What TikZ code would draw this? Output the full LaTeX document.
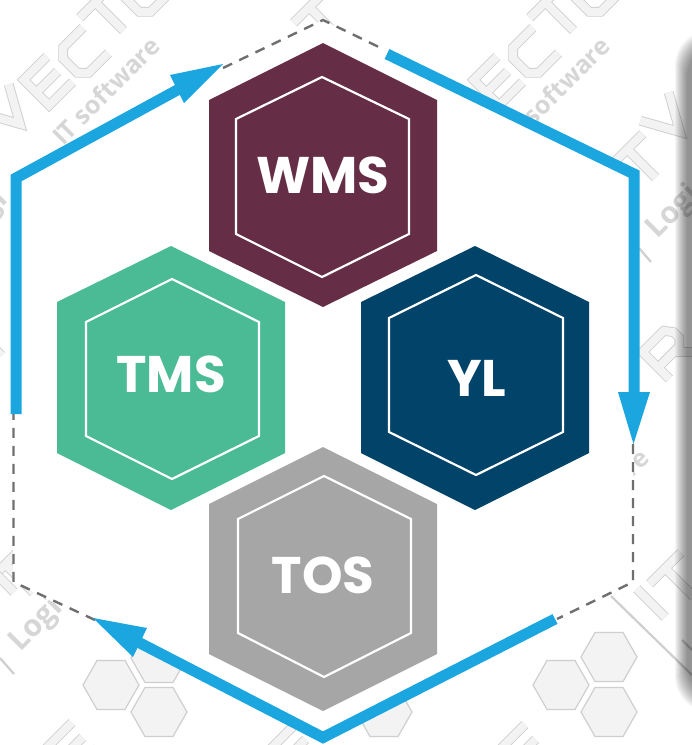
\documentclass[tikz,border=0pt]{standalone}
\usepackage{fontspec}
\setmainfont{Poppins}
\newfontfamily\wmfont{Open Sans}
\definecolor{blueline}{HTML}{1CA6E0}
\definecolor{dashgray}{HTML}{6F6F6F}
\definecolor{wmedge}{HTML}{CFCFCF}
\definecolor{wmtextc}{HTML}{D6D6D6}
\definecolor{wmfill}{HTML}{F3F3F3}
\definecolor{wmsc}{HTML}{662E46}
\definecolor{tmsc}{HTML}{4ABB94}
\definecolor{ylc}{HTML}{024369}
\definecolor{tosc}{HTML}{A6A6A6}
\tikzset{
  bigpath/.style={draw=blueline,line width=11pt,miter limit=10},
  tiphead/.style={fill=blueline},
  dashpath/.style={draw=dashgray,line width=2.4pt,dash pattern=on 10pt off 8pt},
  innerhex/.style={draw=white,line width=2.2pt},
  hexlabel/.style={text=white,font=\fontsize{51.5}{52}\selectfont\bfseries,inner sep=0pt,anchor=center},
  wmstroke/.style={draw=wmedge,line width=.9pt,double=wmfill,double distance=8pt,miter limit=10},
  wmhex/.style={draw=wmedge,line width=1.2pt,fill=wmfill},
  wmtext/.style={text=wmtextc,font=\wmfont\bfseries\fontsize{25}{25}\selectfont,rotate=45,anchor=base west,inner sep=0pt},
  wmtextbig/.style={wmtext,font=\wmfont\bfseries\fontsize{30}{30}\selectfont},
  wmrule/.style={draw=wmedge,line width=2.2pt}
}
\newcommand{\wmV}[2]{\begin{scope}[shift={(#1,#2)},rotate=45]\path[wmstroke] (-20,-19)--(0,17)--(20,-19);\end{scope}}
\newcommand{\wmE}[2]{\begin{scope}[shift={(#1,#2)},rotate=45]\path[wmstroke] (18,-18)--(-15,-18)--(-15,18)--(18,18) (-15,0)--(15,0);\end{scope}}
\newcommand{\wmC}[2]{\begin{scope}[shift={(#1,#2)},rotate=45]\path[wmstroke] (18,-18)--(-10,-18)--(-18,-10)--(-18,10)--(-10,18)--(18,18);\end{scope}}
\newcommand{\wmT}[2]{\begin{scope}[shift={(#1,#2)},rotate=45]\path[wmstroke] (-22,-18)--(22,-18) (0,-18)--(0,22);\end{scope}}
\newcommand{\wmO}[2]{\begin{scope}[shift={(#1,#2)},rotate=45]\path[wmstroke] (-10,-18)--(10,-18)--(18,-10)--(18,10)--(10,18)--(-10,18)--(-18,10)--(-18,-10)--cycle;\end{scope}}
\newcommand{\wmR}[2]{\begin{scope}[shift={(#1,#2)},rotate=45]\path[wmstroke] (-18,20)--(-18,-18)--(12,-18)--(18,-10)--(18,-2)--(12,4)--(-18,4) (4,4)--(20,20);\end{scope}}
\newcommand{\wmI}[2]{\begin{scope}[shift={(#1,#2)},rotate=45]\path[wmstroke] (0,-20)--(0,20);\end{scope}}
\newcommand{\wmhexagon}[2]{\path[wmhex,shift={(#1,#2)}] (-28,0)--(-14,-24.5)--(14,-24.5)--(28,0)--(14,24.5)--(-14,24.5)--cycle;}
\begin{document}
\begin{tikzpicture}[x=1pt,y=-1pt]
\useasboundingbox (0,0) rectangle (692,745);
\clip (0,0) rectangle (692,745);
\fill[white] (0,0) rectangle (692,745);
% watermark
\wmV{8}{112}\wmE{47}{82}\wmC{83}{53}\wmT{108}{15}\wmO{145}{-8}
\wmE{497}{82}\wmC{533}{53}\wmT{558}{15}\wmO{595}{-8}
\wmT{322}{20}
\wmT{640}{162}\wmV{668}{120}\wmR{668}{352}
\wmT{-14}{340}
\wmT{678}{581}\wmI{651}{603}
\wmT{18}{577}\wmI{0}{578}
\node[wmtext] (softA) at (63,147) {IT software};
\node[wmtext] (softB) at (513,147) {IT software};
\node[wmtext] (softC) at (552,559) {IT software};
\node[wmtextbig] (logA) at (657,240) {Logi};
\node[wmtextbig] (logB) at (20,653) {Logi};
\node[wmtextbig] (logC) at (-35,245) {Logi};
\path[wmrule] (639,248)--(651,262);
\path[wmrule] (0,658)--(14,674);
\path[wmrule] (611,596)--(692,675);
\path[wmrule] (682,640)--(692,650);
\wmhexagon{111}{685}\wmhexagon{159}{712}\wmhexagon{159}{658}
\wmhexagon{561}{685}\wmhexagon{609}{712}\wmhexagon{609}{657}
\wmhexagon{384}{712}
\wmE{72}{748}\wmE{295}{750}\wmE{525}{750}
% white interior of the big hexagon
\fill[white] (323,20)--(633,175)--(633,582)--(323,737)--(13,582)--(13,178)--cycle;
% window shadow on the right
\foreach \i in {0,...,12}{
  \fill[black,fill opacity=.038,rounded corners=36pt]
    (740,30+\i)--(675+\i,30+\i)--(675+\i,712-\i)--(740,712-\i)--cycle;
}
% dashed outline
\coordinate (dA0) at (223,68); \coordinate (dA1) at (323,20); \coordinate (dA2) at (385,50);
\coordinate (dB0) at (633,444); \coordinate (dB1) at (633,582); \coordinate (dB2) at (557,619);
\coordinate (dC0) at (95,620); \coordinate (dC1) at (13.5,582); \coordinate (dC2) at (13.5,414);
\path[dashpath] (dA0)--(dA1)--(dA2);
\path[dashpath] (dB0)--(dB1)--(dB2);
\path[dashpath] (dC0)--(dC1)--(dC2);
% hexagons
\fill[wmsc] (323,43)--(437,100)--(437,251)--(323,307)--(209,251)--(209,100)--cycle;
\path[innerhex] (322,77)--(409,119)--(409,234)--(322,277)--(236,234)--(236,119)--cycle;
\node[hexlabel] (wms) at (323,175) {WMS};
\fill[tmsc] (171,246)--(285,302)--(285,453)--(171,510)--(57,453)--(57,302)--cycle;
\path[innerhex] (172,279)--(259,322)--(259,436)--(172,479)--(86,436)--(86,322)--cycle;
\node[hexlabel] (tms) at (171,374) {TMS};
\fill[ylc] (475,246)--(589,302)--(589,453)--(475,510)--(361,453)--(361,302)--cycle;
\path[innerhex] (476,275)--(563,318)--(563,432)--(476,475)--(389,432)--(389,318)--cycle;
\node[hexlabel] (yl) at (477,378) {YL};
\fill[tosc] (323,447)--(437,504)--(437,654)--(323,711)--(209,654)--(209,504)--cycle;
\path[innerhex] (324,476)--(411,519)--(411,633)--(324,677)--(238,633)--(238,519)--cycle;
\node[hexlabel] (tos) at (323,575) {TOS};
% blue arrows
\coordinate (aS) at (16,414); \coordinate (aC) at (16,178); \coordinate (aE) at (181,88);
\coordinate (bS) at (387,54); \coordinate (bC) at (634,174); \coordinate (bE) at (634,396);
\coordinate (cS) at (555,619); \coordinate (cC) at (323,737.5); \coordinate (cE) at (136,641);
\path[bigpath] (aS)--(aC)--(aE);
\path[bigpath] (bS)--(bC)--(bE);
\path[bigpath] (cS)--(cC)--(cE);
\fill[tiphead] (223,64)--(170,75)--(184,103)--cycle;
\fill[tiphead] (633.5,444)--(618,392)--(650,392)--cycle;
\fill[tiphead] (93,618)--(147,628)--(133,657)--cycle;
\end{tikzpicture}
\end{document}
